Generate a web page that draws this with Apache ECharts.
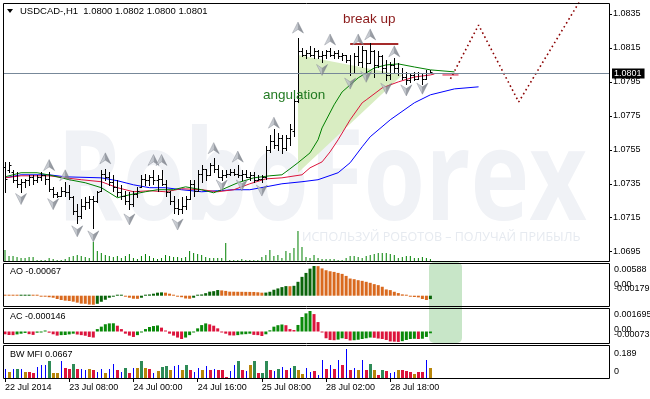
<!DOCTYPE html>
<html>
<head>
<meta charset="utf-8">
<script src="https://cdn.jsdelivr.net/npm/echarts@6.0.0/dist/echarts.min.js"></script>
<style>
html,body{margin:0;padding:0;background:#fff;}
#chart{width:650px;height:399px;}
</style>
</head>
<body>
<div id="chart"></div>
<script>
// ================= DATA =================
const symbolTitle = 'USDCAD-,H1';
const lastOHLC = ['1.0800', '1.0802', '1.0800', '1.0801'];
const bidPrice = 1.0801;
const slotCount = 151; // bar slots on the time axis (107 bars + future space)
const tickIdx = [0, 16, 32, 48, 64, 80, 96];
const tickText = ['22 Jul 2014', '23 Jul 08:00', '24 Jul 00:00', '24 Jul 16:00', '25 Jul 08:00', '28 Jul 02:00', '28 Jul 18:00'];
const priceTicks = [1.0695, 1.0715, 1.0735, 1.0755, 1.0775, 1.0795, 1.0815, 1.0835];

const open = [1.0745,1.0743,1.0742,1.0737,1.0735,1.0736,1.0737,1.0739,1.0737,1.0739,
1.0740,1.0738,1.0732,1.0729,1.0728,1.0731,1.0730,1.0727,1.0719,1.0716,
1.0722,1.0724,1.0726,1.0725,1.0731,1.0741,1.0739,1.0736,1.0733,1.0730,
1.0728,1.0725,1.0723,1.0729,1.0733,1.0738,1.0737,1.0739,1.0737,1.0738,
1.0735,1.0730,1.0725,1.0721,1.0720,1.0722,1.0726,1.0735,1.0731,1.0741,
1.0744,1.0740,1.0746,1.0744,1.0739,1.0740,1.0741,1.0742,1.0741,1.0740,
1.0741,1.0739,1.0740,1.0737,1.0738,1.0739,1.0755,1.0760,1.0758,1.0762,
1.0756,1.0762,1.0766,1.0784,1.0813,1.0811,1.0812,1.0811,1.0813,1.0810,
1.0811,1.0813,1.0811,1.0812,1.0810,1.0811,1.0808,1.0800,1.0810,1.0807,
1.0814,1.0806,1.0813,1.0805,1.0810,1.0803,1.0799,1.0805,1.0803,1.0800,
1.0798,1.0796,1.0799,1.0797,1.0800,1.0797,1.0800];
const high = [1.0748,1.0748,1.0743,1.0742,1.0738,1.0738,1.0740,1.0740,1.0740,1.0742,
1.0740,1.0742,1.0733,1.0730,1.0733,1.0736,1.0734,1.0728,1.0723,1.0726,
1.0727,1.0728,1.0728,1.0731,1.0743,1.0744,1.0742,1.0740,1.0737,1.0734,
1.0731,1.0730,1.0731,1.0733,1.0740,1.0741,1.0740,1.0743,1.0740,1.0743,
1.0737,1.0731,1.0728,1.0726,1.0727,1.0728,1.0737,1.0737,1.0743,1.0746,
1.0744,1.0747,1.0750,1.0746,1.0743,1.0743,1.0744,1.0744,1.0746,1.0743,
1.0743,1.0742,1.0742,1.0740,1.0740,1.0757,1.0764,1.0767,1.0765,1.0764,
1.0764,1.0770,1.0786,1.0821,1.0815,1.0814,1.0816,1.0815,1.0814,1.0813,
1.0814,1.0815,1.0813,1.0814,1.0812,1.0811,1.0811,1.0812,1.0816,1.0816,
1.0814,1.0818,1.0814,1.0813,1.0811,1.0808,1.0807,1.0809,1.0806,1.0803,
1.0801,1.0800,1.0801,1.0801,1.0800,1.0802,1.0802];
const low = [1.0730,1.0742,1.0736,1.0733,1.0730,1.0733,1.0734,1.0735,1.0736,1.0737,
1.0735,1.0731,1.0727,1.0727,1.0728,1.0728,1.0726,1.0717,1.0712,1.0715,
1.0720,1.0721,1.0709,1.0724,1.0731,1.0737,1.0734,1.0731,1.0728,1.0726,
1.0723,1.0720,1.0722,1.0727,1.0733,1.0734,1.0734,1.0735,1.0731,1.0734,
1.0728,1.0723,1.0718,1.0717,1.0718,1.0720,1.0726,1.0728,1.0731,1.0736,
1.0737,1.0740,1.0742,1.0739,1.0737,1.0739,1.0740,1.0740,1.0739,1.0737,
1.0739,1.0737,1.0736,1.0737,1.0736,1.0738,1.0754,1.0756,1.0755,1.0753,
1.0755,1.0758,1.0763,1.0783,1.0810,1.0809,1.0810,1.0809,1.0809,1.0807,
1.0809,1.0810,1.0809,1.0809,1.0808,1.0807,1.0799,1.0800,1.0805,1.0804,
1.0801,1.0806,1.0798,1.0804,1.0801,1.0796,1.0797,1.0801,1.0799,1.0797,
1.0794,1.0795,1.0796,1.0797,1.0794,1.0797,1.0800];
const close = [1.0738,1.0746,1.0737,1.0735,1.0736,1.0737,1.0739,1.0737,1.0739,1.0740,
1.0738,1.0732,1.0729,1.0728,1.0731,1.0730,1.0727,1.0719,1.0716,1.0722,
1.0724,1.0726,1.0725,1.0730,1.0741,1.0739,1.0736,1.0733,1.0730,1.0728,
1.0725,1.0723,1.0729,1.0731,1.0738,1.0737,1.0739,1.0737,1.0738,1.0735,
1.0730,1.0725,1.0721,1.0720,1.0722,1.0726,1.0735,1.0731,1.0741,1.0744,
1.0740,1.0746,1.0744,1.0739,1.0740,1.0741,1.0742,1.0741,1.0740,1.0741,
1.0739,1.0740,1.0737,1.0738,1.0739,1.0755,1.0760,1.0758,1.0762,1.0756,
1.0762,1.0767,1.0784,1.0813,1.0811,1.0812,1.0811,1.0813,1.0810,1.0811,
1.0813,1.0811,1.0812,1.0810,1.0811,1.0808,1.0800,1.0810,1.0807,1.0814,
1.0806,1.0813,1.0805,1.0810,1.0803,1.0799,1.0805,1.0803,1.0800,1.0798,
1.0796,1.0799,1.0797,1.0800,1.0797,1.0800,1.0801];
const volume = [11,5,5,4,3,3,4,4,1,1, 1,3,2,1,1,2,4,5,6,5,
4,3,19,10,8,6,5,4,5,3, 5,7,3,2,5,7,5,3,2,3,
6,5,4,4,3,4,10,8,7,6, 4,3,3,3,3,18,1,1,1,2,
1,1,1,1,4,6,11,5,6,3, 10,8,13,30,14,4,3,6,3,2,
2,2,2,1,1,3,5,5,4,3, 5,6,7,8,8,8,7,6,3,4,
5,5,3,3,4,3,2];

// Alligator lines: [bar index, price]
const jaw = [[0,1.07385],[4,1.07403],[11,1.07403],[15,1.07391],[24,1.07385],[28,1.07368],[32,1.07344],[36,1.07327],[40,1.07327],[44,1.07315],[49,1.07303],[53,1.07309],[57,1.07315],[61,1.07315],[65,1.07332],[69,1.0735],[74,1.07362],[78,1.07374],[83,1.07415],[86,1.07474],[89,1.07568],[91,1.07627],[96,1.07727],[102,1.07827],[106,1.07874],[112,1.07909],[118,1.07921]];
const teeth = [[0,1.07385],[4,1.07397],[11,1.07397],[15,1.07385],[19,1.07374],[24,1.07362],[28,1.07327],[32,1.07303],[36,1.07309],[40,1.07303],[44,1.07321],[49,1.07315],[53,1.07303],[57,1.07315],[61,1.0735],[65,1.07379],[69,1.07385],[74,1.07403],[76,1.07444],[79,1.07479],[81,1.07538],[83,1.07609],[86,1.07727],[89,1.07827],[90,1.07844],[94,1.07915],[98,1.0795],[102,1.07979],[106,1.07991],[107,1.07997],[108,null],[109,1.07991],[113,1.07991]];
const lips = [[0,1.07391],[4,1.07415],[8,1.07415],[12,1.07397],[16,1.07374],[20,1.07356],[24,1.07327],[28,1.07268],[31,1.07285],[35,1.07303],[38,1.07315],[42,1.07315],[45,1.07332],[49,1.07315],[52,1.07297],[54,1.07315],[58,1.07356],[62,1.07385],[66,1.07397],[69,1.07403],[71,1.07438],[73,1.07474],[76,1.07532],[78,1.07609],[79,1.07679],[82,1.07815],[84,1.07891],[88,1.07974],[92,1.08032],[95,1.0805],[98,1.08056],[102,1.08038],[106,1.08021],[112,1.08009]];

// Fractal arrows: [bar index, price of arrow]
const fractalUp = [[11,1.0746],[15,1.0740],[25,1.0750],[37,1.0749],[39,1.0749],[52,1.0756],[58,1.0751],[67,1.0771],[73,1.0827],[81,1.0820],[88,1.0820],[91,1.0823],[97,1.0813]];
const fractalDown = [[4,1.0726],[12,1.0723],[18,1.0707],[22,1.0704],[31,1.0714],[43,1.0711],[54,1.0734],[59,1.0734],[64,1.0731],[79,1.0802],[86,1.0794],[90,1.0798],[95,1.0791],[100,1.0790],[104,1.0791]];

// Annotations (data coordinates)
const angulationZone = [[73,1.08109],[99,1.07991],[73,1.07415]];
const breakLevel = [[86,1.08174],[98,1.08174]];
const projection = [[111,1.07968],[118,1.08285],[128,1.07832],[144,1.08456]];

// Awesome Oscillator
const aoValues = [0.0002,0.00015,0.0001,0.00005,0.0001,0.00015,0.0002,0.0001,0.0,-0.0001,
-0.0002,-0.0003,-0.0004,-0.00065,-0.00085,-0.00098,-0.00105,-0.00118,-0.00137,-0.00157,
-0.0016,-0.00175,-0.00179,-0.0016,-0.0012,-0.0008,-0.0004,-0.00013,0.00002,0.00005,
-0.0002,-0.0004,-0.0006,-0.00062,-0.0004,0.0,0.00025,0.0004,0.0006,0.00066,
0.0006,0.0004,0.00012,-0.00002,-0.0003,-0.00055,-0.0006,-0.0004,0.0,0.00025,
0.0005,0.0008,0.0009,0.00112,0.00105,0.00095,0.0008,0.00079,0.00078,0.00077,
0.00076,0.00075,0.00074,0.00068,0.0006,0.00062,0.00078,0.00118,0.00144,0.0017,
0.0019,0.00188,0.00196,0.00275,0.00373,0.00451,0.00536,0.00588,0.00585,0.0054,
0.00504,0.00484,0.00471,0.00451,0.00432,0.00392,0.0034,0.00327,0.00307,0.00294,
0.00275,0.00255,0.00229,0.00209,0.00177,0.00124,0.00111,0.00078,0.00052,0.00026,
0.00007,-0.0002,-0.00026,-0.00033,-0.00065,-0.00085,-0.00067];
// Accelerator Oscillator
const acValues = [-0.00023,-0.00029,-0.0003,-0.00024,-0.00018,-0.00012,-0.00022,-0.00028,-0.0001,-0.00004,
0.00002,-0.0001,-0.00023,-0.00034,-0.0003,-0.00029,-0.00024,-0.00018,-0.00025,-0.0003,
-0.00035,-0.00045,-0.0005,0.0002,0.0004,0.0006,0.00067,0.00068,0.00048,0.0002,
-0.00018,-0.00034,-0.00045,-0.0003,-0.00007,0.0002,0.00037,0.00045,0.0005,0.00032,
0.00004,-0.00018,-0.00034,-0.0005,-0.00062,-0.0005,-0.0003,-0.00007,0.00026,0.00053,
0.00067,0.00059,0.00048,0.00026,-0.00001,-0.00018,-0.00032,-0.00033,-0.0003,-0.00024,
-0.00022,-0.00018,-0.00028,-0.0003,-0.00037,-0.00023,0.0001,0.0004,0.00052,0.00058,
0.00052,0.0002,0.00012,0.00054,0.0012,0.0015,0.001695,0.00144,0.00078,-0.00007,
-0.00056,-0.0007,-0.00072,-0.00067,-0.00056,-0.00062,-0.00074,-0.00072,-0.00068,-0.00062,
-0.00056,-0.0005,-0.00052,-0.00058,-0.00062,-0.0007,-0.00082,-0.00084,-0.00086,-0.0008,
-0.0007,-0.00062,-0.0006,-0.00062,-0.0006,-0.00045,-0.000146];
// Market Facilitation Index and its state (G green, F fade, B fake, S squat)
const mfiValues = [0.060,0.039,0.060,0.060,0.060,0.039,0.039,0.032,0.069,0.082,
0.086,0.112,0.032,0.032,0.112,0.065,0.056,0.090,0.060,0.060,
0.054,0.060,0.049,0.039,0.060,0.032,0.058,0.090,0.054,0.039,
0.065,0.032,0.065,0.065,0.108,0.065,0.060,0.032,0.047,0.069,
0.080,0.054,0.075,0.086,0.054,0.086,0.049,0.039,0.065,0.054,
0.075,0.049,0.058,0.049,0.049,0.006,0.043,0.086,0.108,0.049,
0.043,0.086,0.112,0.032,0.032,0.112,0.054,0.047,0.058,0.069,
0.049,0.065,0.075,0.049,0.026,0.065,0.039,0.043,0.022,0.118,
0.060,0.082,0.060,0.118,0.086,0.189,0.049,0.065,0.054,0.118,
0.054,0.090,0.054,0.022,0.054,0.043,0.032,0.039,0.054,0.054,
0.047,0.039,0.026,0.039,0.039,0.118,0.0667];
const mfiState = ('BFBGBFSSBB' + 'BGFFBSSGSB' + 'BFSBBFBBSB' + 'GSBFGFSBFG' + 'GFBBFGSBBF' +
  'BSBSSSBBGS' + 'BFGSGGSBGB' + 'SBGFFBBSBB' + 'SBSBSBSBFB' + 'SGFSGSBBFS' + 'SSFSSBF').split('');

// ================= CHART =================
const FONT = '"Liberation Sans", Arial, sans-serif';
const cats = Array.from({length: slotCount}, (_, i) => String(i));
const labelAt = {};
tickIdx.forEach((k, j) => { labelAt[k] = tickText[j]; });

const panels = [
  {left: 3, top: 3, width: 606, height: 258},
  {left: 3, top: 263, width: 606, height: 43},
  {left: 3, top: 308, width: 606, height: 35},
  {left: 3, top: 345, width: 606, height: 33}
];
const grids = panels.map(g => Object.assign({}, g, {show: false}));
const panelFrames = panels.map(g => ({
  type: 'rect', z: 40, silent: true,
  shape: {x: g.left + 0.5, y: g.top + 0.5, width: g.width, height: g.height},
  style: {fill: 'none', stroke: '#000', lineWidth: 1}
}));

const xAxes = grids.map((g, gi) => ({
  type: 'category', gridIndex: gi, data: cats, boundaryGap: true,
  axisLine: {show: false},
  splitLine: {show: false},
  axisTick: gi === 3 ? {show: true, alignWithLabel: true, length: 4, interval: (i) => labelAt[i] !== undefined, lineStyle: {color: '#000'}} : {show: false},
  axisLabel: gi === 3 ? {show: true, interval: (i) => labelAt[i] !== undefined, formatter: (v, i) => labelAt[i] || '', align: 'left', fontSize: 9, fontFamily: FONT, color: '#000', margin: 5} : {show: false}
}));

const yAxes = [
  {gridIndex: 0, type: 'value', position: 'right', min: 1.068952, max: 1.084148,
   axisLine: {show: false}, splitLine: {show: false},
   axisTick: {show: true, customValues: priceTicks, length: 3, lineStyle: {color: '#000'}},
   axisLabel: {customValues: priceTicks, formatter: v => v.toFixed(4), fontSize: 9, fontFamily: FONT, color: '#000', margin: 4}},
  {gridIndex: 0, type: 'value', min: 0, max: 258, show: false},
  {gridIndex: 1, type: 'value', min: -0.002039, max: 0.006474, show: false},
  {gridIndex: 2, type: 'value', min: -0.000951, max: 0.001943, show: false},
  {gridIndex: 3, type: 'value', min: 0, max: 0.2151, show: false}
];

const ohlcData = open.map((o, i) => [i, o, high[i], low[i], close[i]]);

function renderOHLC(params, api) {
  const i = api.value(0);
  const pO = api.coord([i, api.value(1)]);
  const pH = api.coord([i, api.value(2)]);
  const pL = api.coord([i, api.value(3)]);
  const pC = api.coord([i, api.value(4)]);
  const x = Math.round(pO[0]) + 0.5;
  const yo = Math.round(pO[1]) + 0.5, yc = Math.round(pC[1]) + 0.5;
  const st = {stroke: '#000', lineWidth: 1};
  return {type: 'group', children: [
    {type: 'line', shape: {x1: x, y1: Math.round(pH[1]), x2: x, y2: Math.round(pL[1]) + 1}, style: st},
    {type: 'line', shape: {x1: x - 2, y1: yo, x2: x, y2: yo}, style: st},
    {type: 'line', shape: {x1: x, y1: yc, x2: x + 2, y2: yc}, style: st}
  ]};
}

const mfiColors = {G: '#2e8b57', F: '#b8860b', B: '#0000ff', S: '#dc143c'};
function renderMFI(params, api) {
  const i = api.value(0), v = api.value(1);
  const s = mfiState[i];
  const p0 = api.coord([i, 0]), p1 = api.coord([i, v]);
  const w = s === 'B' ? 1 : 3;
  const xc = Math.round(p0[0]);
  const x = s === 'B' ? xc : xc - 1;
  const yTop = Math.round(p1[1]), yBot = Math.round(p0[1]);
  return {type: 'rect', shape: {x: x, y: yTop, width: w, height: yBot - yTop}, style: {fill: mfiColors[s]}};
}

function renderZone(params, api) {
  const pts = angulationZone.map(p => api.coord(p));
  return {type: 'polygon', shape: {points: pts}, style: {fill: '#d9edc2'}};
}

const arrowGrad = {type: 'linear', x: 0, y: 0, x2: 1, y2: 0,
  colorStops: [{offset: 0, color: '#d4d8de'}, {offset: 0.5, color: '#aeb3bb'}, {offset: 0.51, color: '#868b94'}, {offset: 1, color: '#6b7079'}]};

function txt(x, y, s, o) {
  o = o || {};
  return {type: 'text', x: x, y: y, z: o.z !== undefined ? o.z : 50, silent: true,
    scaleX: o.scaleX || 1,
    style: {text: s, fill: o.color || '#000', font: o.font || ('9px ' + FONT),
      textAlign: o.align || 'left', textVerticalAlign: o.va || 'middle'}};
}

const option = {
  animation: false,
  grid: grids,
  xAxis: xAxes,
  yAxis: yAxes,
  graphic: [
    txt(57, 184, 'RoboForex', {font: 'bold 126px "Open Sans", sans-serif', color: '#f0f2f6', z: -10, scaleX: 0.79}),
    txt(302, 237, 'ИСПОЛЬЗУЙ РОБОТОВ – ПОЛУЧАЙ ПРИБЫЛЬ', {font: '12.5px "Open Sans", sans-serif', color: '#e6eaf0', z: -10}),
    {type: 'rect', z: -5, silent: true, shape: {x: 429, y: 262, width: 33, height: 81, r: 5}, style: {fill: '#c8e6c8'}},
    {type: 'polygon', z: 50, silent: true, shape: {points: [[7, 9], [13, 9], [10, 13]]}, style: {fill: '#000'}},
    txt(20, 11, symbolTitle + '  ' + lastOHLC.join(' '), {font: '9.5px ' + FONT}),
    txt(10, 272, 'AO ' + aoValues[aoValues.length - 1].toFixed(5)),
    txt(10, 317, 'AC ' + acValues[acValues.length - 1].toFixed(6)),
    txt(10, 355, 'BW MFI ' + mfiValues[mfiValues.length - 1].toFixed(4)),
    txt(614, 270, '0.00588'),
    txt(614, 285, '0.00'),
    txt(614, 289, '-0.00179'),
    txt(614, 314.5, '0.001695'),
    txt(614, 330, '0.00'),
    txt(614, 334.5, '-0.00073'),
    txt(614, 353.5, '0.189'),
    txt(614, 371.5, '0'),
    txt(343, 19, 'break up', {font: '13.5px ' + FONT, color: '#8b1a1a'}),
    txt(263, 95, 'angulation', {font: '13.5px ' + FONT, color: '#217a21'})
  ].concat(panelFrames),
  series: [
    {type: 'custom', name: 'zone', xAxisIndex: 0, yAxisIndex: 0, z: 1, silent: true, clip: true,
     data: [[angulationZone[0][0], angulationZone[0][1]]], renderItem: renderZone},
    {type: 'bar', name: 'volume', xAxisIndex: 0, yAxisIndex: 1, z: 2, silent: true, barWidth: 1,
     itemStyle: {color: '#008000'}, data: volume},
    {type: 'line', name: 'jaw', xAxisIndex: 0, yAxisIndex: 0, z: 3, silent: true, showSymbol: false,
     lineStyle: {color: '#0000ff', width: 1}, data: jaw},
    {type: 'line', name: 'teeth', xAxisIndex: 0, yAxisIndex: 0, z: 3, silent: true, showSymbol: false,
     lineStyle: {color: '#dc143c', width: 1}, data: teeth},
    {type: 'line', name: 'lips', xAxisIndex: 0, yAxisIndex: 0, z: 3, silent: true, showSymbol: false,
     lineStyle: {color: '#008000', width: 1}, data: lips},
    {type: 'line', name: 'break', xAxisIndex: 0, yAxisIndex: 0, z: 3, silent: true, showSymbol: false,
     lineStyle: {color: '#a52a2a', width: 2}, data: breakLevel},
    {type: 'line', name: 'projection', xAxisIndex: 0, yAxisIndex: 0, z: 3, silent: true, showSymbol: false, clip: true,
     lineStyle: {color: '#8b0000', width: 1.6, type: [1.6, 3]}, data: projection,
     markLine: {silent: true, symbol: 'none', animation: false,
       lineStyle: {color: '#778899', type: 'solid', width: 1},
       label: {position: 'end', formatter: () => bidPrice.toFixed(4), backgroundColor: '#000', color: '#fff',
         fontSize: 9, fontFamily: FONT, padding: [1, 3, 0, 2], distance: 3},
       data: [{yAxis: bidPrice}]}},
    {type: 'custom', name: 'bars', xAxisIndex: 0, yAxisIndex: 0, z: 4, silent: true,
     data: ohlcData, encode: {x: 0, y: [1, 2, 3, 4]}, renderItem: renderOHLC},
    {type: 'scatter', name: 'fractalUp', xAxisIndex: 0, yAxisIndex: 0, z: 5, silent: true,
     symbol: 'path://M6,0 L12,12 L6,8 L0,12 Z', symbolSize: [11, 11],
     itemStyle: {color: arrowGrad, borderColor: '#7d828b', borderWidth: 0.5}, data: fractalUp},
    {type: 'scatter', name: 'fractalDown', xAxisIndex: 0, yAxisIndex: 0, z: 5, silent: true,
     symbol: 'path://M0,0 L6,4 L12,0 L6,12 Z', symbolSize: [11, 11],
     itemStyle: {color: arrowGrad, borderColor: '#7d828b', borderWidth: 0.5}, data: fractalDown},
    {type: 'bar', name: 'AO', xAxisIndex: 1, yAxisIndex: 2, silent: true, barWidth: 3, barMinHeight: 1,
     itemStyle: {color: p => (p.dataIndex > 0 && aoValues[p.dataIndex] > aoValues[p.dataIndex - 1]) ? '#0a640a' : '#d9691e'},
     data: aoValues},
    {type: 'bar', name: 'AC', xAxisIndex: 2, yAxisIndex: 3, silent: true, barWidth: 3, barMinHeight: 1,
     itemStyle: {color: p => (p.dataIndex > 0 && acValues[p.dataIndex] > acValues[p.dataIndex - 1]) ? '#0a8a0a' : '#dc143c'},
     data: acValues},
    {type: 'custom', name: 'MFI', xAxisIndex: 3, yAxisIndex: 4, silent: true,
     data: mfiValues.map((v, i) => [i, v]), encode: {x: 0, y: 1}, renderItem: renderMFI}
  ]
};

const chart = echarts.init(document.getElementById('chart'), null, {renderer: 'canvas'});
chart.setOption(option);
</script>
</body>
</html>
